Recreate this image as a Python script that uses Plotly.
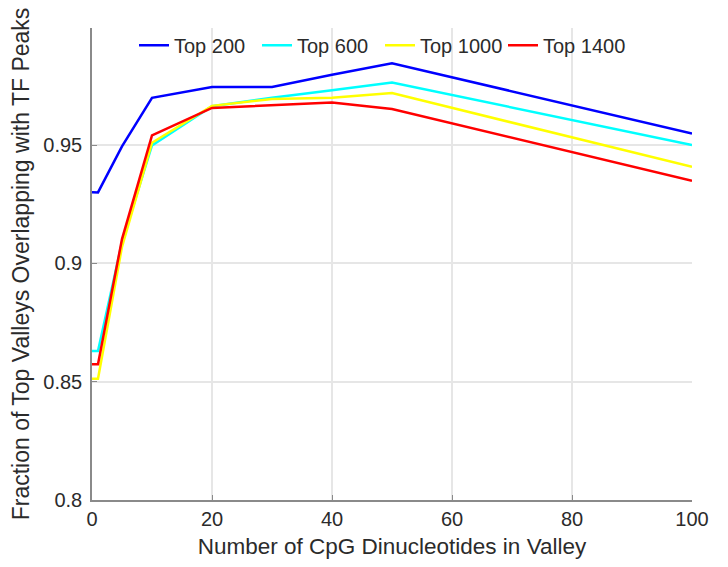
import plotly.graph_objects as go

# Number of CpG dinucleotides allowed in a valley
cpg_counts = [0, 1, 5, 10, 20, 30, 40, 50, 100]

# Fraction of top valleys overlapping TF peaks, per top-N set
top200 = [0.9301, 0.9300, 0.9495, 0.9700, 0.9746, 0.9746, 0.9797, 0.9846, 0.9549]
top600 = [0.8630, 0.8630, 0.9090, 0.9499, 0.9664, 0.9700, 0.9732, 0.9765, 0.9500]
top1000 = [0.8513, 0.8513, 0.9070, 0.9510, 0.9666, 0.9695, 0.9700, 0.9720, 0.9408]
top1400 = [0.8574, 0.8574, 0.9103, 0.9541, 0.9657, 0.9667, 0.9680, 0.9653, 0.9349]

series = [
    ("Top 200", top200, "#0000ff"),
    ("Top 600", top600, "#00ffff"),
    ("Top 1000", top1000, "#ffff00"),
    ("Top 1400", top1400, "#ff0000"),
]

y_ticks = [0.8, 0.85, 0.9, 0.95]
y_tick_text = ["0.8", "0.85", "0.9", "0.95"]
x_ticks = [0, 20, 40, 60, 80, 100]

font_family = "Liberation Sans, Arial, Helvetica, sans-serif"
text_color = "#2b2b2b"
axis_color = "#8a8a8a"
grid_color = "#e6e6e6"

fig = go.Figure()
for name, values, color in series:
    fig.add_trace(go.Scatter(
        x=cpg_counts, y=values, mode="lines", name=name,
        line=dict(color=color, width=2.5),
    ))

fig.update_layout(
    width=728, height=567,
    margin=dict(l=92, r=36, t=28, b=64),
    paper_bgcolor="white", plot_bgcolor="white",
    font=dict(family=font_family, size=20, color=text_color),
    showlegend=True,
    legend=dict(
        orientation="h", x=0.07, xanchor="left", y=1.005, yanchor="top",
        bgcolor="rgba(0,0,0,0)", borderwidth=0,
        entrywidth=78, entrywidthmode="pixels",
        font=dict(size=20, color=text_color),
    ),
)

fig.update_xaxes(
    range=[0, 100], tickvals=x_ticks,
    showline=True, linecolor=axis_color, linewidth=1.5,
    ticks="inside", ticklen=5, tickcolor=axis_color,
    showgrid=True, gridcolor=grid_color, gridwidth=1.5,
    zeroline=False, mirror=False,
    tickfont=dict(size=20, color=text_color),
    title=dict(text="Number of CpG Dinucleotides in Valley",
               font=dict(size=22.5, color=text_color), standoff=9),
)
fig.update_yaxes(
    range=[0.8, 0.9995], tickvals=y_ticks, ticktext=y_tick_text,
    showline=True, linecolor=axis_color, linewidth=1.5,
    ticks="inside", ticklen=5, tickcolor=axis_color,
    showgrid=True, gridcolor=grid_color, gridwidth=1.5,
    zeroline=False, mirror=False,
    ticklabelstandoff=4,
    tickfont=dict(size=20, color=text_color),
    title=dict(text="Fraction of Top Valleys Overlapping with TF Peaks",
               font=dict(size=23, color=text_color), standoff=7),
)

fig.write_html("out.html")
